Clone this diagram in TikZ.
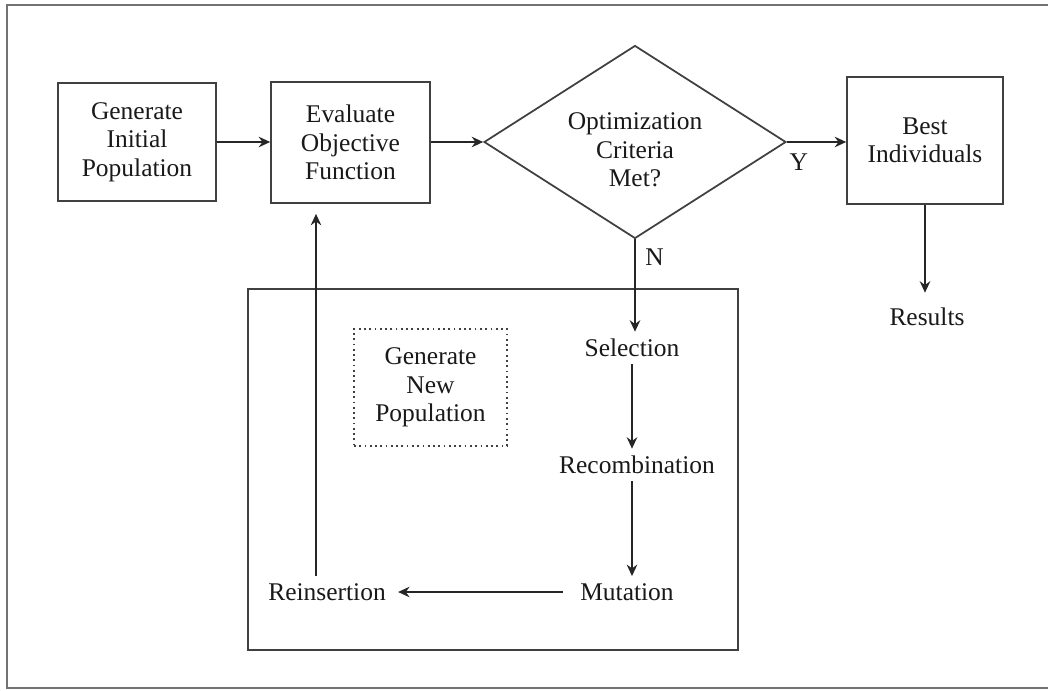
\documentclass[tikz,border=0pt]{standalone}
\usepackage{fontspec}
\setmainfont{Liberation Serif}
\usepackage{tikz}
\usetikzlibrary{shapes.geometric,arrows.meta}

\tikzset{
	txt/.style={font=\fontsize{14.5pt}{16.2pt}\selectfont, text=black!90, align=center},
	blk/.style={txt, draw=black!75, line width=1pt, inner sep=0pt},
	stage/.style={txt, inner sep=4pt},
	arr/.style={draw=black!85, line width=1pt, -{Stealth[length=6.5pt,width=6pt]}},
}

\begin{document}
\begin{tikzpicture}[x=0.02cm, y=-0.02cm]
			%%%%% START %%%%%
			\useasboundingbox (0, 0) rectangle (1048, 690);
			\draw[black!55, line width=1.3pt] (1048, 5) -- (7, 5) -- (7, 688) -- (1048, 688);
			
			\node[blk, minimum width=3.16cm, minimum height=2.36cm] (gen) at (137, 142) {Generate\\Initial\\Population};
			\node[blk, minimum width=3.18cm, minimum height=2.42cm] (eval) at (350.5, 142.5) {Evaluate\\Objective\\Function};
			\node[blk, shape=diamond, aspect=1.56, minimum width=6.04cm, minimum height=3.86cm,
				label={[txt, yshift=-0.16cm]center:{Optimization\\Criteria\\Met?}}] (crit) at (635, 142) {};
			\node[blk, minimum width=3.12cm, minimum height=2.54cm] (best) at (925, 140.5) {Best\\Individuals};
			\node[stage] (res) at (927, 317) {Results};
			
			\draw[arr] (gen.east) -- (gen.east -| eval.west);
			\draw[arr] (eval.east |- crit) -- (crit.west);
			\draw[arr] (crit.east) -- node[txt, pos=0.2, below=3pt] (ylab) {Y} (crit.east -| best.west);
			\draw[arr, shorten >=0.16cm] (best.south) -- (best.south |- res.north);
			
			% inner loop
			\draw[black!75, line width=1pt] (248, 289) rectangle (738, 650);
			\node[blk, dotted, line width=1.1pt, minimum width=3.06cm, minimum height=2.34cm] (newpop) at (430.5, 387.5) {Generate\\New\\Population};
			
			\node[stage] (sel) at (632, 348) {Selection};
			\node[stage] (rec) at (637, 465) {Recombination};
			\node[stage] (mut) at (627, 592) {Mutation};
			\node[stage] (rei) at (327, 592) {Reinsertion};
			
			\draw[arr] (crit.south) -- node[txt, pos=0.19, right=2pt] (nlab) {N} (crit.south |- sel.north);
			\draw[arr] (sel.south) -- (sel.south |- rec.north);
			\draw[arr] (sel.south |- rec.south) -- (sel.south |- mut.north);
			\draw[arr, shorten <=0.2cm, shorten >=0.1cm] (mut.west) -- (rei.east);
			\draw[arr, shorten >=0.2cm] ([xshift=-0.22cm]rei.north) -- ([xshift=-0.22cm]rei.north |- eval.south);
			%%%%% END %%%%%
		\end{tikzpicture}
\end{document}
